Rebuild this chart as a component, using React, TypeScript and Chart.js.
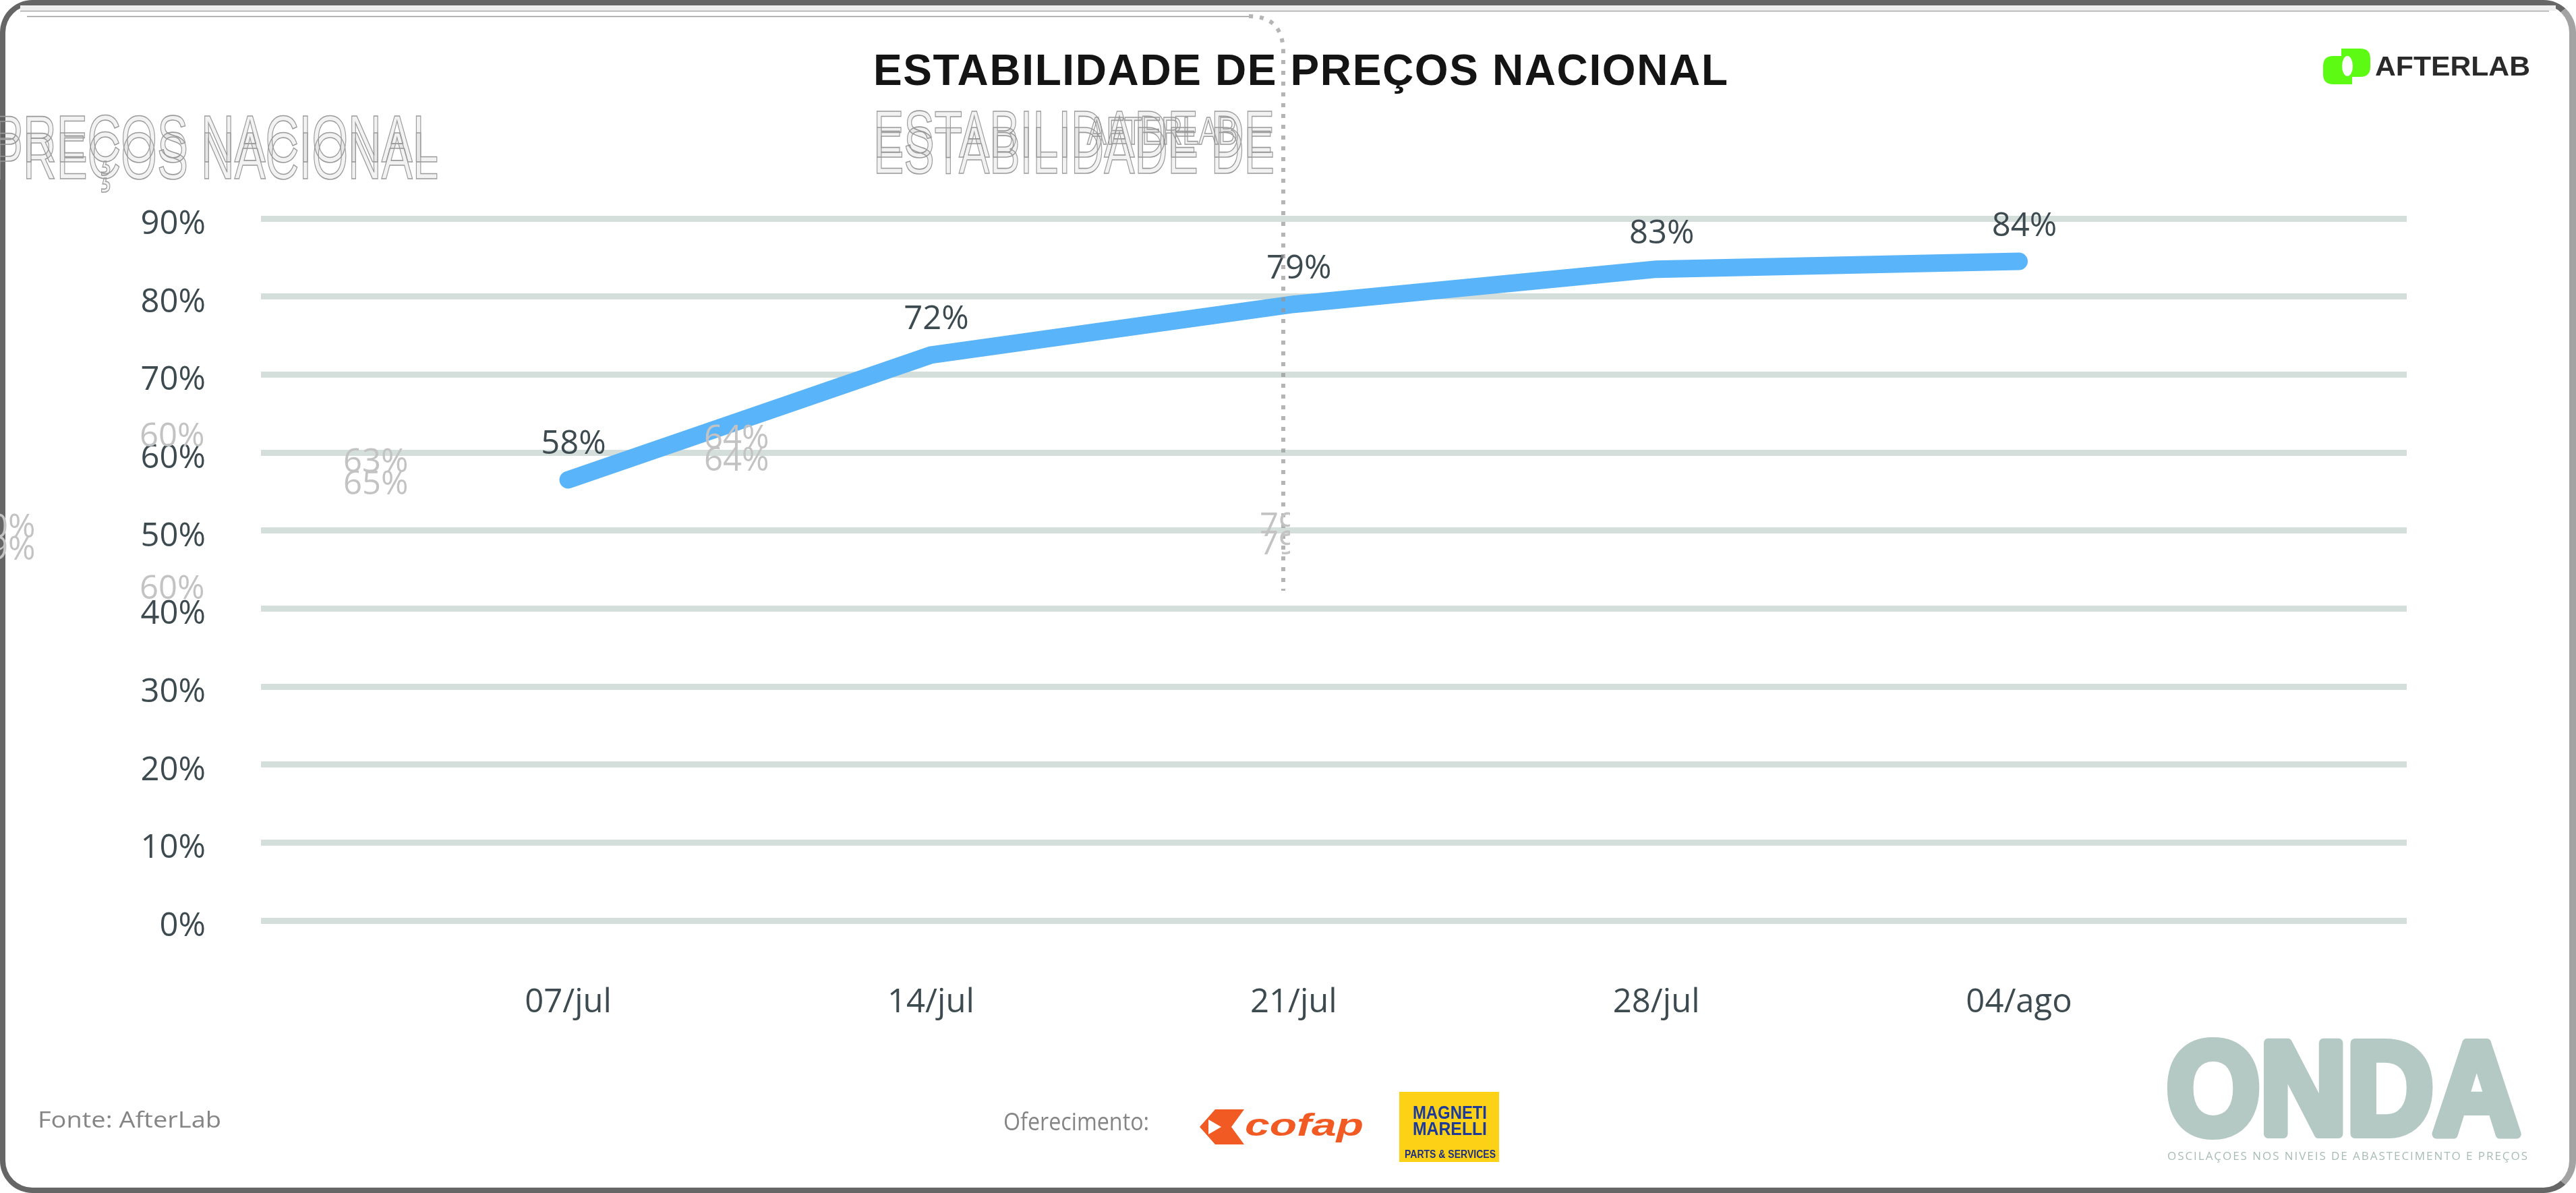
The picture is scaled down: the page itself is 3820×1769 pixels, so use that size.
import React, { useEffect, useRef } from "react";
import { Chart, registerables } from "chart.js";

Chart.register(...registerables);

// ---- data ----
const categories = ["07/jul", "14/jul", "21/jul", "28/jul", "04/ago"];
const values = [56.5, 72.5, 79, 83.5, 84.5];
const valueLabels = ["58%", "72%", "79%", "83%", "84%"];
const yTicks = [0, 10, 20, 30, 40, 50, 60, 70, 80, 90];

const W = 3820;
const H = 1769;
const TEXT = "#3d4b50";
const FONT = "'Open Sans', 'Noto Sans', sans-serif";
const SANS = "'Liberation Sans', Arial, sans-serif";

const valueLabelPlugin = {
  id: "valueLabelPlugin",
  afterDatasetsDraw(chart: any) {
    const ctx = chart.ctx;
    const meta = chart.getDatasetMeta(0);
    ctx.save();
    ctx.font = `49px ${FONT}`;
    ctx.fillStyle = TEXT;
    ctx.textAlign = "center";
    ctx.textBaseline = "alphabetic";
    meta.data.forEach((pt: any, i: number) => {
      ctx.fillText(valueLabels[i], pt.x + 8, pt.y - 38);
    });
    ctx.restore();
  },
};

function LineChart() {
  const ref = useRef<HTMLCanvasElement | null>(null);
  useEffect(() => {
    if (!ref.current) return;
    const chart = new Chart(ref.current, {
      type: "line",
      data: {
        datasets: [
          {
            data: values.map((v, i) => ({ x: i, y: v })),
            borderColor: "#5ab4f9",
            borderWidth: 26,
            borderCapStyle: "round",
            borderJoinStyle: "miter",
            pointRadius: 0,
            pointHoverRadius: 0,
            fill: false,
            tension: 0,
          },
        ],
      },
      options: {
        responsive: false,
        animation: false,
        events: [],
        layout: { padding: { top: 324, right: 251, left: 0, bottom: 0 } },
        plugins: {
          legend: { display: false },
          tooltip: { enabled: false },
          title: { display: false },
        },
        scales: {
          x: {
            type: "linear",
            min: -0.847,
            max: 5.069,
            grid: { display: false, drawTicks: false },
            border: { display: false },
            afterBuildTicks: (s: any) => {
              s.ticks = categories.map((_, i) => ({ value: i }));
            },
            afterFit: (s: any) => {
              s.height = 404;
            },
            ticks: {
              callback: (_v: any, i: number) => categories[i] ?? "",
              font: { family: FONT, size: 49 },
              color: TEXT,
              padding: 93,
              autoSkip: false,
              maxRotation: 0,
              minRotation: 0,
            },
          },
          y: {
            min: 0,
            max: 90,
            afterBuildTicks: (s: any) => {
              s.ticks = yTicks.map((v) => ({ value: v }));
            },
            afterFit: (s: any) => {
              s.width = 387;
            },
            grid: { color: "#d4dfdc", lineWidth: 9, drawTicks: false },
            border: { display: false },
            ticks: {
              callback: (v: any) => `${v}%`,
              font: { family: FONT, size: 49 },
              color: TEXT,
              padding: 82,
              labelOffset: 9,
            },
          },
        },
      } as any,
      plugins: [valueLabelPlugin],
    });
    return () => chart.destroy();
  }, []);
  return (
    <canvas
      ref={ref}
      width={W}
      height={H}
      style={{ position: "absolute", left: 0, top: 0, width: W, height: H }}
    />
  );
}

function Ghosts() {
  const g = { fontFamily: FONT, fontSize: 49, fill: "#c3c3c3" } as any;
  const outline = {
    fontFamily: SANS,
    fill: "rgba(0,0,0,0.05)",
    stroke: "#9a9a9a",
    strokeWidth: 1.6,
  } as any;
  return (
    <g>
      {/* ghost frame lines */}
      <rect x={30} y={8} width={3760} height={8} fill="#efefef" />
      <line x1={30} y1={16.5} x2={3780} y2={16.5} stroke="#aaaaaa" strokeWidth={1.5} />
      <line x1={40} y1={24.5} x2={1852} y2={24.5} stroke="#999999" strokeWidth={1.5} />
      <path
        d="M1852,24 Q1903,24 1903,78 L1903,876"
        fill="none"
        stroke="rgba(150,150,150,0.7)"
        strokeWidth={6}
        strokeDasharray="6 10"
      />
      {/* ghost outlined headings */}
      <text x={-12} y={240} fontSize={98} textLength={662} lengthAdjust="spacingAndGlyphs" {...outline}>PREÇOS NACIONAL</text>
      <text x={-12} y={265} fontSize={98} textLength={662} lengthAdjust="spacingAndGlyphs" {...outline}>PREÇOS NACIONAL</text>
      <text x={1295} y={233} fontSize={98} textLength={595} lengthAdjust="spacingAndGlyphs" {...outline}>ESTABILIDADE DE</text>
      <text x={1295} y={257} fontSize={98} textLength={595} lengthAdjust="spacingAndGlyphs" {...outline}>ESTABILIDADE DE</text>
      <text x={1612} y={214} fontSize={58} textLength={223} lengthAdjust="spacingAndGlyphs" {...outline}>AFTERLAB</text>
      {/* ghost percentages */}
      <text x={509} y={700} {...g}>63%</text>
      <text x={509} y={733} {...g}>65%</text>
      <text x={1044} y={665} {...g}>64%</text>
      <text x={1044} y={698} {...g}>64%</text>
      <text x={207} y={662} {...g}>60%</text>
      <text x={207} y={888} {...g}>60%</text>
      <text x={-44} y={797} {...g}>60%</text>
      <text x={-44} y={830} {...g}>59%</text>
      <clipPath id="clip79">
        <rect x={1850} y={740} width={63} height={100} />
      </clipPath>
      <g clipPath="url(#clip79)">
        <text x={1868} y={795} {...g}>79%</text>
        <text x={1868} y={822} {...g}>79%</text>
      </g>
    </g>
  );
}

function Decor() {
  return (
    <svg
      width={W}
      height={H}
      viewBox={`0 0 ${W} ${H}`}
      style={{ position: "absolute", left: 0, top: 0, pointerEvents: "none" }}
    >
      <Ghosts />
      {/* title */}
      <text
        x={1295}
        y={126}
        fontFamily={SANS}
        fontWeight={700}
        fontSize={64}
        textLength={1267}
        lengthAdjust="spacing"
        fill="#141414"
      >
        ESTABILIDADE DE PREÇOS NACIONAL
      </text>

      {/* AfterLab logo */}
      <path d="M3488,83 L3460,83 Q3445,83 3445,98 L3445,110 Q3445,125 3460,125 L3488,125 Z" fill="#5dfb13" />
      <path d="M3472,72 L3500,72 Q3515,72 3515,87 L3515,99 Q3515,114 3500,114 L3472,114 Z" fill="#5dfb13" />
      <ellipse cx={3481} cy={98} rx={8} ry={15} fill="#ffffff" />
      <text x={3522} y={112} fontFamily={SANS} fontWeight={700} fontSize={40} textLength={230} lengthAdjust="spacingAndGlyphs" fill="#2a2a2a">
        AFTERLAB
      </text>

      {/* footer */}
      <text x={56} y={1672} fontFamily={FONT} fontSize={33} textLength={272} lengthAdjust="spacingAndGlyphs" fill="#858585">
        Fonte: AfterLab
      </text>
      <text x={1488} y={1676} fontFamily={FONT} fontSize={36} textLength={216} lengthAdjust="spacingAndGlyphs" fill="#858585">
        Oferecimento:
      </text>

      {/* cofap */}
      <polygon points="1779,1671 1802,1645 1845,1645 1826,1671 1845,1697 1802,1697" fill="#f15a22" />
      <polygon points="1792,1660 1811,1671 1792,1682" fill="#ffffff" />
      <text x={1846} y={1684} fontFamily={SANS} fontWeight={700} fontStyle="italic" fontSize={46} textLength={176} lengthAdjust="spacingAndGlyphs" fill="#f15a22">
        cofap
      </text>

      {/* Magneti Marelli */}
      <rect x={2075} y={1619} width={148} height={104} fill="#fcd116" />
      <text x={2095} y={1659} fontFamily={SANS} fontWeight={700} fontSize={28} textLength={110} lengthAdjust="spacingAndGlyphs" fill="#1b3a9c">
        MAGNETI
      </text>
      <text x={2095} y={1683} fontFamily={SANS} fontWeight={700} fontSize={28} textLength={110} lengthAdjust="spacingAndGlyphs" fill="#1b3a9c">
        MARELLI
      </text>
      <text x={2083} y={1717} fontFamily={SANS} fontWeight={700} fontSize={16} textLength={135} lengthAdjust="spacingAndGlyphs" fill="#1f2f80">
        PARTS &amp; SERVICES
      </text>

      {/* ONDA */}
      <text
        x={3213}
        y={1681}
        fontFamily={SANS}
        fontWeight={700}
        fontSize={194}
        textLength={524}
        lengthAdjust="spacingAndGlyphs"
        fill="#b4c9c3"
        stroke="#b4c9c3"
        strokeWidth={14}
        strokeLinejoin="round"
      >
        ONDA
      </text>
      <text x={3214} y={1720} fontFamily={FONT} fontSize={17} textLength={534} lengthAdjust="spacing" fill="#a8bcb6">
        OSCILAÇOES NOS NIVEIS DE ABASTECIMENTO E PREÇOS
      </text>
    </svg>
  );
}

export default function App() {
  return (
    <div style={{ position: "relative", width: W, height: H, overflow: "hidden", background: "#fff" }}>
      <style>{"html,body{margin:0;padding:0;background:#fff;overflow:hidden}"}</style>
      <div
        style={{
          position: "absolute",
          left: 0,
          top: 0,
          width: W,
          height: H,
          boxSizing: "border-box",
          border: "8px solid #666666",
          borderRight: "10px solid #a3a3a3",
          borderRadius: 48,
          background: "#ffffff",
        }}
      />
      <LineChart />
      <Decor />
    </div>
  );
}
